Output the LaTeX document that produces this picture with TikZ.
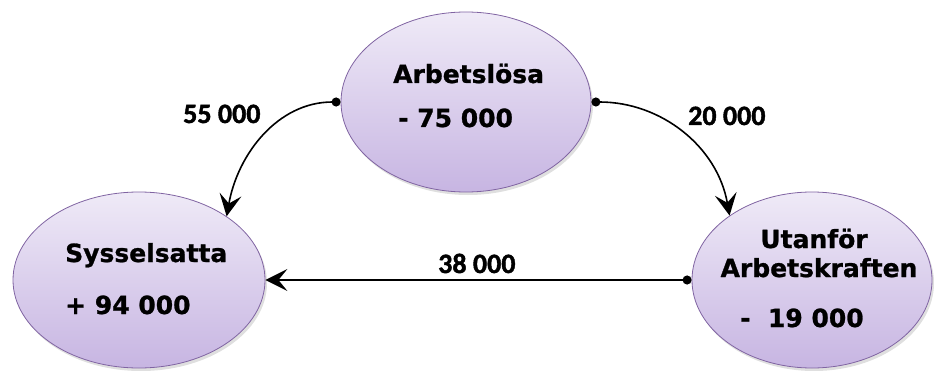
\documentclass[tikz,border=0pt]{standalone}
\usepackage{fontspec}
\newfontfamily\boxfont{DejaVu Sans}[BoldFeatures={FakeBold=1}]
\newfontfamily\numfont{Carlito}[BoldFeatures={FakeBold=1.5}]
\usepackage{tikz}
\usetikzlibrary{positioning,arrows.meta,shapes.geometric,shadows}
\definecolor{stateborder}{HTML}{8064A2}
\definecolor{statetop}{HTML}{EFEAF7}
\definecolor{statebot}{HTML}{C7B5E2}

\begin{document}
\begin{tikzpicture}[x=1pt,y=1pt]
	\tikzset{
		state/.style={ellipse,draw=stateborder,line width=0.8pt,top color=statetop,bottom color=statebot,
			inner sep=0pt,drop shadow={opacity=0.25,shadow xshift=2pt,shadow yshift=-3pt}},
		txt/.style={anchor=base west,inner sep=0pt,font=\boxfont\bfseries\fontsize{25}{30}\selectfont},
		num/.style={anchor=base west,inner sep=0pt,font=\numfont\bfseries\fontsize{28}{32}\selectfont},
		flow/.style={draw,line width=1.6pt,{Circle[length=9pt]}-{Stealth[length=22pt,width=22pt,inset=9pt]}}
	}
	\useasboundingbox (0,0) rectangle (934,370);
	% states
	\node[state,minimum width=250pt,minimum height=180pt] (arb) at (466,268) {};
	\node[state,minimum width=252pt,minimum height=176pt] (sys) at (139,90) {};
	\node[state,minimum width=240pt,minimum height=176pt] (ute) at (812,90) {};
	% texts
	\node[txt] (arbname) at (393,287) {Arbetslösa};
	\node[txt] (arbval) at (398,243) {- 75 000};
	\node[txt] (sysname) at (65,108) {Sysselsatta};
	\node[txt] (sysval) at (65,56) {+ 94 000};
	\node[txt,anchor=base] (utename) at (814,122) {Utanför};
	\node[txt,anchor=base] (utename2) at (819,93) {Arbetskraften};
	\node[txt] (uteval) at (740,43) {-~~19 000};
	% flows
	\draw[flow] (arb.west) to[out=180,in=80] (sys.36);
	\draw[flow] (arb.east) to[out=0,in=100] (ute.142);
	\draw[flow] (ute.west) -- (sys.east);
	\node[num] (n55) at (183,247) {55 000};
	\node[num] (n20) at (688,245) {20 000};
	\node[num] (n38) at (438,97) {38 000};
\end{tikzpicture}
\end{document}
